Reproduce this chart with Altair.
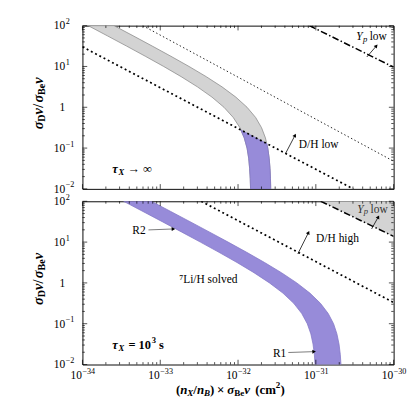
import altair as alt
import pandas as pd

# ---------------- data ----------------
# common y levels at which the band edges were read
BAND_Y = [100, 56.23, 31.62, 17.78, 10, 5.623, 3.162, 1.778, 1, 0.5623, 0.3162,
          0.1778, 0.1, 0.05623, 0.03162, 0.01778, 0.01]
# top panel (tau -> infinity): inner / outer x edge of the band
TOP_INNER_X = [1.186e-34, 2.094e-34, 3.69e-34, 6.43e-34, 1.107e-33, 1.858e-33, 3.006e-33,
               4.613e-33, 6.59e-33, 8.67e-33, 1.057e-32, 1.202e-32, 1.306e-32, 1.371e-32,
               1.409e-32, 1.435e-32, 1.449e-32]
TOP_OUTER_X = [2.547e-34, 4.50e-34, 7.89e-34, 1.371e-33, 2.344e-33, 3.90e-33, 6.22e-33,
               9.35e-33, 1.306e-32, 1.683e-32, 2.004e-32, 2.249e-32, 2.41e-32, 2.512e-32,
               2.576e-32, 2.612e-32, 2.63e-32]
# allowed (purple) part of the top band, below the D/H low line
TOP_OK_Y = [0.2786, 0.1778, 0.1291, 0.1, 0.05623, 0.03162, 0.01778, 0.01]
TOP_OK_X1 = [1.084e-32, 1.202e-32, 1.259e-32, 1.306e-32, 1.371e-32, 1.409e-32, 1.435e-32, 1.449e-32]
TOP_OK_X2 = [1.084e-32, 1.698e-32, 2.339e-32, 2.41e-32, 2.512e-32, 2.576e-32, 2.612e-32, 2.63e-32]
# bottom panel (tau = 1e3 s)
BOT_INNER_X = [3.381e-34, 5.998e-34, 1.062e-33, 1.871e-33, 3.281e-33, 5.689e-33, 9.70e-33,
               1.603e-32, 2.535e-32, 3.776e-32, 5.20e-32, 6.59e-32, 7.76e-32, 8.63e-32,
               9.20e-32, 9.57e-32, 9.77e-32]
BOT_OUTER_X = [7.69e-34, 1.365e-33, 2.415e-33, 4.256e-33, 7.45e-33, 1.291e-32, 2.193e-32,
               3.614e-32, 5.689e-32, 8.39e-32, 1.146e-31, 1.442e-31, 1.690e-31, 1.866e-31,
               1.986e-31, 2.061e-31, 2.104e-31]
# constraint lines
DH_LOW_X, DH_LOW_Y = [1e-34, 3.02e-31], [30.2, 0.01]
THIN_X, THIN_Y = [5.96e-34, 1e-30], [100, 0.0476]
YP_TOP_X, YP_TOP_Y = [8.26e-32, 1e-30], [100, 9.62]
DH_HIGH_X, DH_HIGH_Y = [3.36e-33, 1e-30], [100, 0.33]
YP_BOT_X, YP_BOT_Y = [1.16e-31, 1e-30], [100, 13.8]
# axes: tick values, label base and exponent
X_TICKS = [1e-34, 1e-33, 1e-32, 1e-31, 1e-30]
X_BASE = ["10", "10", "10", "10", "10"]
X_EXP = ["−34", "−33", "−32", "−31", "−30"]
Y_TICKS = [0.01, 0.1, 1, 10, 100]
Y_BASE = ["10", "10", "1", "10", "10"]
Y_EXP = ["−2", "−1", "", "1", "2"]
MINOR_MULT = [2, 3, 4, 5, 6, 7, 8, 9]

# ---------------- styling ----------------
W, H = 326, 171
FONT = "Liberation Serif"
GRAY_FILL, GRAY_EDGE = "#d3d3d3", "#8a8a8a"
PURPLE, PURPLE_EDGE = "#978bd9", "#8378c6"
xs = alt.Scale(type="log", domain=[1e-34, 1e-30], nice=False)
ys = alt.Scale(type="log", domain=[0.01, 100], nice=False)
ONE = pd.DataFrame({"a": [0]})

X_MINOR = [m * t for t in X_TICKS[:-1] for m in MINOR_MULT]
Y_MINOR = [m * t for t in Y_TICKS[:-1] for m in MINOR_MULT]


def line(x, y, dash, width):
    return alt.Chart(pd.DataFrame({"x": x, "y": y})).mark_line(
        color="black", strokeDash=dash, strokeWidth=width, clip=True
    ).encode(x=alt.X("x:Q", scale=xs, axis=None), y=alt.Y("y:Q", scale=ys, axis=None))


def band(y, x1, x2, fill, edge):
    return alt.Chart(pd.DataFrame({"y": y, "x1": x1, "x2": x2})).mark_area(
        orient="horizontal", fill=fill, stroke=edge, strokeWidth=0.8, clip=True
    ).encode(y=alt.Y("y:Q", scale=ys, axis=None), x=alt.X("x1:Q", scale=xs, axis=None),
             x2="x2:Q")


def ticks(show_x_labels):
    out = []
    for vals, ln in ((X_TICKS, 5), (X_MINOR, 2.5)):
        d = pd.DataFrame({"v": vals})
        out.append(alt.Chart(d).mark_rule(color="black", strokeWidth=0.7).encode(
            x=alt.X("v:Q", scale=xs, axis=None), y=alt.value(H), y2=alt.value(H - ln)))
        out.append(alt.Chart(d).mark_rule(color="black", strokeWidth=0.7).encode(
            x=alt.X("v:Q", scale=xs, axis=None), y=alt.value(0), y2=alt.value(ln)))
    for vals, ln in ((Y_TICKS, 5), (Y_MINOR, 2.5)):
        d = pd.DataFrame({"v": vals})
        out.append(alt.Chart(d).mark_rule(color="black", strokeWidth=0.7).encode(
            y=alt.Y("v:Q", scale=ys, axis=None), x=alt.value(0), x2=alt.value(ln)))
        out.append(alt.Chart(d).mark_rule(color="black", strokeWidth=0.7).encode(
            y=alt.Y("v:Q", scale=ys, axis=None), x=alt.value(W), x2=alt.value(W - ln)))
    # y tick labels: base + superscript exponent
    yd = pd.DataFrame({"v": Y_TICKS, "b": Y_BASE, "e": Y_EXP})
    out.append(alt.Chart(yd).mark_text(
        font=FONT, fontSize=12, align="right", baseline="middle", color="black").encode(
        y=alt.Y("v:Q", scale=ys, axis=None), x=alt.value(-18), text="b:N"))
    out.append(alt.Chart(yd).mark_text(
        font=FONT, fontSize=8.5, align="left", baseline="middle", dy=-4.5,
        color="black").encode(
        y=alt.Y("v:Q", scale=ys, axis=None), x=alt.value(-17.5), text="e:N"))
    if show_x_labels:
        xd = pd.DataFrame({"v": X_TICKS, "b": X_BASE, "e": X_EXP})
        out.append(alt.Chart(xd).mark_text(
            font=FONT, fontSize=12, align="right", baseline="middle", dx=-0.5,
            color="black").encode(
            x=alt.X("v:Q", scale=xs, axis=None), y=alt.value(H + 11), text="b:N"))
        out.append(alt.Chart(xd).mark_text(
            font=FONT, fontSize=8.5, align="left", baseline="middle", dy=-4.5,
            color="black").encode(
            x=alt.X("v:Q", scale=xs, axis=None), y=alt.value(H + 11), text="e:N"))
    return out


def piece(txt, x, y, size, style="normal", weight="normal", angle=0, color="black"):
    return alt.Chart(ONE).mark_text(
        text=txt, font=FONT, fontSize=size, fontStyle=style, fontWeight=weight,
        align="left", baseline="middle", angle=angle, color=color
    ).encode(x=alt.value(x), y=alt.value(y))


def dtext(txt, xv, yv, size=12, style="normal", weight="normal", dx=0, dy=0, color="black"):
    return alt.Chart(ONE).mark_text(
        text=txt, font=FONT, fontSize=size, fontStyle=style, fontWeight=weight,
        align="left", baseline="middle", dx=dx, dy=dy, color=color
    ).encode(x=alt.XDatum(xv, scale=xs, axis=None), y=alt.YDatum(yv, scale=ys, axis=None))


def arrow(x1, y1, x2, y2, ang, color="black"):
    shaft = alt.Chart(ONE).mark_rule(color=color, strokeWidth=0.8).encode(
        x=alt.XDatum(x1, scale=xs, axis=None), y=alt.YDatum(y1, scale=ys, axis=None),
        x2=alt.X2Datum(x2), y2=alt.Y2Datum(y2))
    head = alt.Chart(ONE).mark_point(shape="triangle-up", angle=ang, size=18, filled=True,
                                     color="black", opacity=1).encode(
        x=alt.XDatum(x2, scale=xs, axis=None), y=alt.YDatum(y2, scale=ys, axis=None))
    return [shaft, head]


def y_title():
    parts = [("σ", 15, "italic", 0, 8.0), ("D", 10.5, "normal", 4, 7.6),
             ("v", 15, "italic", 0, 7.0), ("/", 15, "normal", 0, 5.5),
             ("σ", 15, "italic", 0, 8.0), ("Be", 10.5, "normal", 4, 11.7),
             ("v", 15, "italic", 0, 7.0)]
    total = sum(p[4] for p in parts)
    y0 = 0.475 * H + total / 2
    out, off = [], 0
    for t, s, st, sh, wd in parts:
        out.append(piece(t, -46 + sh, y0 - off, s, st, "bold", angle=270))
        off += wd
    return out


def x_title():
    parts = [("(", 13.5, "normal", 0, 4.5), ("n", 13.5, "italic", 0, 7.3),
             ("X", 9.5, "italic", 3, 6.4), ("/", 13.5, "normal", 0, 3.8),
             ("n", 13.5, "italic", 0, 7.3), ("B", 9.5, "italic", 3, 6.4),
             (")", 13.5, "normal", 0, 7.3), ("×", 13.5, "normal", 0, 10.6),
             ("σ", 13.5, "italic", 0, 7.5), ("Be", 9.5, "normal", 3, 10.4),
             ("v", 13.5, "italic", 0, 11.6), ("(cm", 13.5, "normal", 0, 21.5),
             ("2", 9.5, "normal", -5, 4.8), (")", 13.5, "normal", 0, 4.5)]
    out, off = [], 98
    for t, s, st, sh, wd in parts:
        out.append(piece(t, off, H + 27 + sh, s, st, "bold"))
        off += wd
    return out


# ---------------- top panel ----------------
top_layers = [
    band(BAND_Y, TOP_INNER_X, TOP_OUTER_X, GRAY_FILL, GRAY_EDGE),
    band(TOP_OK_Y, TOP_OK_X1, TOP_OK_X2, PURPLE, PURPLE_EDGE),
    line(DH_LOW_X, DH_LOW_Y, [2, 3], 1.8),
    line(THIN_X, THIN_Y, [1.5, 2.5], 0.9),
    line(YP_TOP_X, YP_TOP_Y, [7, 2.5, 1.5, 2.5], 1.6),
    dtext("Y", 3.31e-31, 56.4, 12, "italic"),
    dtext("p", 3.31e-31, 56.4, 9, "italic", dx=7, dy=3),
    dtext("low", 3.31e-31, 56.4, 12, dx=14),
    dtext("D/H low", 6.05e-32, 0.128, 12),
    dtext("τ", 2.41e-34, 0.0299, 13, "italic", "bold"),
    dtext("X", 2.41e-34, 0.0299, 9, "italic", "bold", dx=6.5, dy=3),
    dtext("→ ∞", 2.41e-34, 0.0299, 13, dx=16),
]
top_layers += arrow(4.52e-31, 17.06, 6.0e-31, 31.8, 40)
top_layers += arrow(4.06e-32, 0.0723, 5.40e-32, 0.205, 27)
top_layers += ticks(False) + y_title()
top = alt.layer(*top_layers).properties(width=W, height=H)

# ---------------- bottom panel ----------------
bot_layers = [
    alt.Chart(pd.DataFrame({"x": YP_BOT_X, "y": YP_BOT_Y})).mark_area(
        fill=GRAY_FILL, clip=True).encode(
        x=alt.X("x:Q", scale=xs, axis=None), y=alt.Y("y:Q", scale=ys, axis=None),
        y2=alt.Y2Datum(100)),
    band(BAND_Y, BOT_INNER_X, BOT_OUTER_X, PURPLE, PURPLE_EDGE),
    line(DH_HIGH_X, DH_HIGH_Y, [2, 3], 1.8),
    line(YP_BOT_X, YP_BOT_Y, [7, 2.5, 1.5, 2.5], 1.6),
    dtext("Y", 3.40e-31, 65.9, 12, "italic", color="#333"),
    dtext("p", 3.40e-31, 65.9, 9, "italic", dx=7, dy=3, color="#333"),
    dtext("low", 3.40e-31, 65.9, 12, dx=14, color="#333"),
    dtext("D/H high", 1.007e-31, 12.5, 12),
    dtext("⁷Li/H solved", 1.75e-33, 1.265, 12),
    dtext("R2", 4.37e-34, 19.9, 12),
    dtext("R1", 2.81e-32, 0.01866, 12),
    dtext("τ", 2.41e-34, 0.0299, 13, "italic", "bold"),
    dtext("X", 2.41e-34, 0.0299, 9, "italic", "bold", dx=6.5, dy=3),
    dtext("= 10", 2.41e-34, 0.0299, 13, weight="bold", dx=17),
    dtext("3", 2.41e-34, 0.0299, 9, weight="bold", dx=41.5, dy=-5),
    dtext("s", 2.41e-34, 0.0299, 13, weight="bold", dx=49),
]
bot_layers += arrow(5.21e-31, 21.0, 6.35e-31, 41.3, 28)
bot_layers += arrow(5.87e-32, 5.15, 8.04e-32, 17.06, 26)
bot_layers += arrow(7.06e-34, 19.9, 1.476e-33, 21.0, 88, color="#555")
bot_layers += arrow(4.43e-32, 0.0197, 9.5e-32, 0.0207, 88, color="#555")
bot_layers += ticks(True) + y_title() + x_title()
bottom = alt.layer(*bot_layers).properties(width=W, height=H)

chart = alt.vconcat(top, bottom, spacing=13, bounds="flush").properties(
    padding={"left": 24, "top": 0, "right": 0, "bottom": 0}
).configure_view(stroke="black", strokeWidth=1)

chart.save("out.html", embed_options={"renderer": "svg", "actions": False})
